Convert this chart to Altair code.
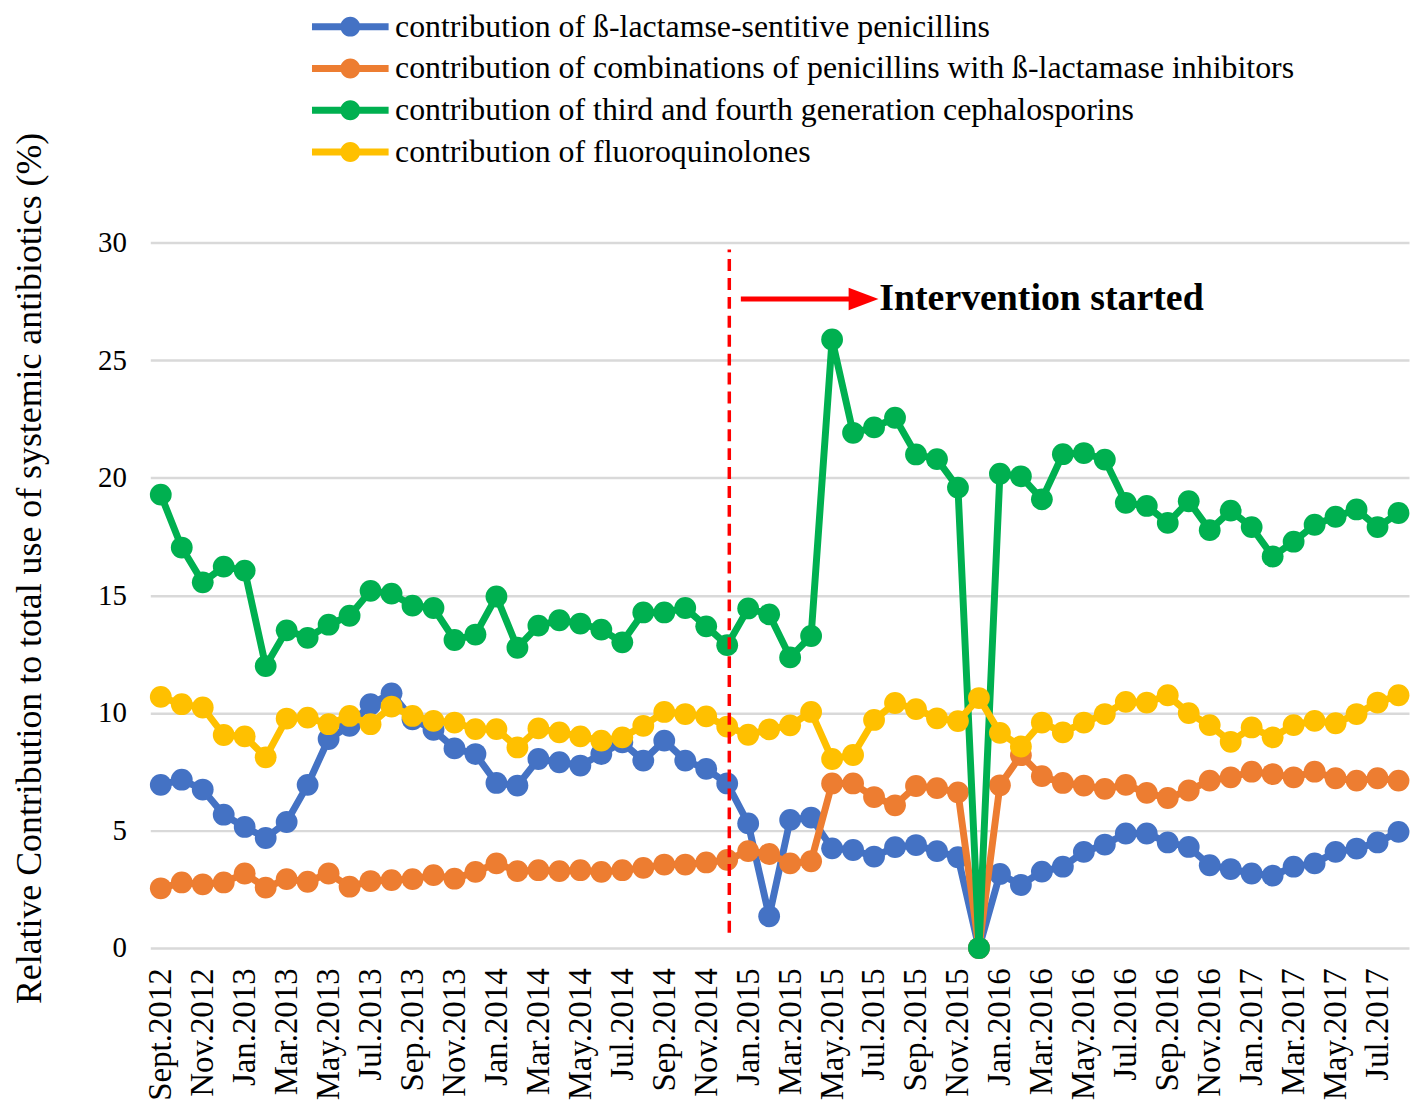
import altair as alt
import pandas as pd

# ---------------- data ----------------
months = [
    "Sept.2012", "Oct.2012", "Nov.2012", "Dec.2012",
    "Jan.2013", "Feb.2013", "Mar.2013", "Apr.2013", "May.2013", "Jun.2013",
    "Jul.2013", "Aug.2013", "Sep.2013", "Oct.2013", "Nov.2013", "Dec.2013",
    "Jan.2014", "Feb.2014", "Mar.2014", "Apr.2014", "May.2014", "Jun.2014",
    "Jul.2014", "Aug.2014", "Sep.2014", "Oct.2014", "Nov.2014", "Dec.2014",
    "Jan.2015", "Feb.2015", "Mar.2015", "Apr.2015", "May.2015", "Jun.2015",
    "Jul.2015", "Aug.2015", "Sep.2015", "Oct.2015", "Nov.2015", "Dec.2015",
    "Jan.2016", "Feb.2016", "Mar.2016", "Apr.2016", "May.2016", "Jun.2016",
    "Jul.2016", "Aug.2016", "Sep.2016", "Oct.2016", "Nov.2016", "Dec.2016",
    "Jan.2017", "Feb.2017", "Mar.2017", "Apr.2017", "May.2017", "Jun.2017",
    "Jul.2017", "Aug.2017",
]

series_names = [
    "contribution of ß-lactamse-sentitive penicillins",
    "contribution of combinations of penicillins with ß-lactamase inhibitors",
    "contribution of third and fourth generation cephalosporins",
    "contribution of fluoroquinolones",
]
series_colors = ["#4472C4", "#ED7D31", "#00B050", "#FFC000"]

penicillins = [
    6.94, 7.16, 6.74, 5.67, 5.15, 4.68, 5.36, 6.94, 8.89, 9.45,
    10.37, 10.83, 9.73, 9.28, 8.49, 8.25, 7.02, 6.91, 8.04, 7.90,
    7.76, 8.25, 8.75, 7.97, 8.82, 7.97, 7.62, 7.00, 5.30, 1.35,
    5.45, 5.55, 4.24, 4.17, 3.89, 4.29, 4.38, 4.12, 3.86, 0.00,
    3.15, 2.68, 3.25, 3.46, 4.09, 4.40, 4.87, 4.87, 4.49, 4.30,
    3.52, 3.36, 3.17, 3.08, 3.46, 3.60, 4.09, 4.23, 4.49, 4.94,
]
combinations = [
    2.54, 2.79, 2.71, 2.79, 3.17, 2.57, 2.93, 2.82, 3.17, 2.61,
    2.85, 2.89, 2.93, 3.10, 2.95, 3.24, 3.60, 3.27, 3.31, 3.27,
    3.31, 3.24, 3.31, 3.41, 3.55, 3.55, 3.64, 3.75, 4.12, 4.00,
    3.60, 3.69, 7.00, 7.00, 6.42, 6.07, 6.89, 6.80, 6.62, 0.00,
    6.92, 8.20, 7.31, 7.02, 6.91, 6.77, 6.94, 6.60, 6.38, 6.70,
    7.12, 7.26, 7.50, 7.40, 7.26, 7.50, 7.22, 7.12, 7.22, 7.12,
]
cephalosporins = [
    19.28, 17.03, 15.55, 16.22, 16.05, 11.99, 13.51, 13.19, 13.75, 14.13,
    15.19, 15.07, 14.56, 14.46, 13.10, 13.33, 14.95, 12.77, 13.71, 13.94,
    13.80, 13.54, 13.00, 14.27, 14.27, 14.46, 13.68, 12.88, 14.44, 14.19,
    12.36, 13.27, 25.88, 21.91, 22.14, 22.55, 20.99, 20.79, 19.58, 0.00,
    20.17, 20.06, 19.08, 21.00, 21.05, 20.77, 18.93, 18.80, 18.08, 19.00,
    17.77, 18.60, 17.90, 16.65, 17.28, 18.00, 18.34, 18.65, 17.90, 18.50,
]
fluoroquinolones = [
    10.68, 10.37, 10.23, 9.06, 9.00, 8.11, 9.76, 9.80, 9.52, 9.87,
    9.52, 10.27, 9.87, 9.66, 9.59, 9.31, 9.31, 8.53, 9.34, 9.17,
    9.00, 8.82, 8.96, 9.45, 10.04, 9.95, 9.85, 9.42, 9.07, 9.30,
    9.47, 10.04, 8.04, 8.21, 9.70, 10.42, 10.16, 9.77, 9.65, 10.63,
    9.15, 8.57, 9.59, 9.17, 9.59, 9.95, 10.47, 10.44, 10.75, 9.99,
    9.48, 8.77, 9.38, 8.96, 9.48, 9.66, 9.56, 9.95, 10.44, 10.75,
]
y_ticks = [0, 5, 10, 15, 20, 25, 30]

# annotation (in data units: month index / percent)
intervention_x = 27.1
intervention_y = [0.65, 29.7]
arrow_x = [27.65, 33.3]
arrow_head_x = 33.5
arrow_y = 27.6
label_x = 34.25
label_text = "Intervention started"

# ---------------- build table ----------------
all_values = [penicillins, combinations, cephalosporins, fluoroquinolones]
rows = []
for name, vals in zip(series_names, all_values):
    for i, v in enumerate(vals):
        rows.append({"idx": i, "month": months[i], "series": name, "value": v})
df = pd.DataFrame(rows)

FONT = "Liberation Serif"
label_expr = "[" + ",".join("'" + m + "'" for m in months) + "][datum.value]"

x_enc = alt.X(
    "idx:Q",
    scale=alt.Scale(domain=[-0.5, len(months) - 0.5], nice=False, zero=False),
    axis=alt.Axis(
        values=list(range(0, len(months), 2)),
        labelExpr=label_expr,
        labelAngle=270,
        labelAlign="right",
        labelBaseline="middle",
        labelFont=FONT,
        labelFontSize=33,
        labelColor="black",
        labelPadding=20,
        labelOverlap=False,
        labelFlush=False,
        labelBound=False,
        grid=False,
        domain=False,
        ticks=False,
        title=None,
    ),
)
y_enc = alt.Y(
    "value:Q",
    scale=alt.Scale(domain=[0, 30], nice=False, zero=True),
    axis=alt.Axis(
        values=y_ticks,
        grid=True,
        gridColor="#d9d9d9",
        gridWidth=2.5,
        domain=False,
        ticks=False,
        labelFont=FONT,
        labelFontSize=29,
        labelColor="black",
        labelPadding=24,
        title="Relative Contribution to total use of systemic antibiotics (%)",
        titleFont=FONT,
        titleFontSize=36,
        titleFontWeight="normal",
        titleColor="black",
        titleAngle=270,
        titleAlign="center",
        titleBaseline="middle",
        titleX=-121,
        titleY=327,
    ),
)

symbol_path = (
    "M-3.85,-0.35H3.85V0.35H-3.85Z"
    "M1,0A1,1,0,1,1,-1,0A1,1,0,1,1,1,0Z"
)

color_scale = alt.Scale(domain=series_names, range=series_colors)


def make_legend():
    return alt.Legend(
        title=None,
        orient="none",
        legendX=185,
        legendY=-233,
        symbolType=symbol_path,
        symbolSize=400,
        symbolStrokeWidth=0,
        symbolOpacity=1,
        labelFont=FONT,
        labelFontSize=32,
        labelColor="black",
        labelLimit=1500,
        labelOffset=29,
        rowPadding=10,
        padding=0,
    )


base = alt.Chart(df)
layers = []
for name in series_names:
    sub = base.transform_filter(alt.FieldEqualPredicate(field="series", equal=name))
    layers.append(
        sub.mark_line(strokeWidth=7).encode(
            x=x_enc,
            y=y_enc,
            stroke=alt.Stroke("series:N", scale=color_scale, legend=make_legend()),
        )
    )
    layers.append(
        sub.mark_point(filled=True, size=480, opacity=1).encode(
            x=x_enc,
            y=y_enc,
            color=alt.Color("series:N", scale=color_scale, legend=make_legend()),
        )
    )

# annotation layers
ann_df = pd.DataFrame({
    "x": [intervention_x], "y": [intervention_y[0]], "y2": [intervention_y[1]],
    "ax": [arrow_x[0]], "ax2": [arrow_x[1]], "ay": [arrow_y],
    "hx": [arrow_head_x], "tx": [label_x], "text": [label_text],
})
ann = alt.Chart(ann_df)
vline = ann.mark_rule(color="#FF0000", strokeWidth=3.5, strokeDash=[12, 7]).encode(
    x=alt.X("x:Q"), y=alt.Y("y:Q"), y2="y2:Q"
)
shaft = ann.mark_rule(color="#FF0000", strokeWidth=5).encode(
    x=alt.X("ax:Q"), x2="ax2:Q", y=alt.Y("ay:Q")
)
head = ann.mark_point(
    shape="M-1,-0.75L1,0L-1,0.75Z", filled=True, color="#FF0000", size=900, opacity=1
).encode(x=alt.X("hx:Q"), y=alt.Y("ay:Q"))
label = ann.mark_text(
    align="left", baseline="middle", font=FONT, fontSize=38, fontWeight="bold", color="black"
).encode(x=alt.X("tx:Q"), y=alt.Y("ay:Q"), text="text:N")

chart = alt.layer(*layers, vline, shaft, head, label).properties(
    width=1265,
    height=709,
    autosize=alt.AutoSizeParams(type="none"),
    padding={"left": 143, "top": 233, "right": 1, "bottom": 155},
    background="white",
).configure_view(stroke=None)

chart.save("out.html", embed_options={"renderer": "svg", "actions": False})
